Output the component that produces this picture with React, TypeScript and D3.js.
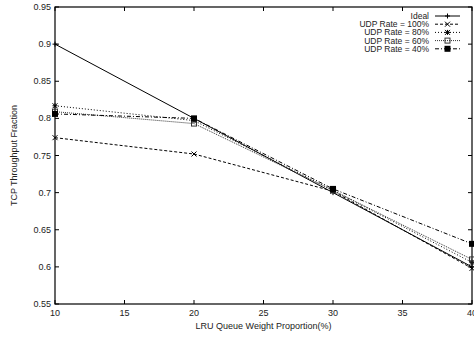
import { useEffect, useRef } from 'react';
import * as d3 from 'd3';

const xValues = [10, 20, 30, 40];
const seriesNames = ['Ideal', 'UDP Rate = 100%', 'UDP Rate = 80%', 'UDP Rate = 60%', 'UDP Rate = 40%'];
const ideal = [0.9, 0.8, 0.7, 0.6];
const udp100 = [0.774, 0.752, 0.702, 0.598];
const udp80 = [0.817, 0.797, 0.703, 0.606];
const udp60 = [0.809, 0.793, 0.703, 0.61];
const udp40 = [0.806, 0.8, 0.705, 0.631];
const xTicks = [10, 15, 20, 25, 30, 35, 40];
const yTicks = [0.55, 0.6, 0.65, 0.7, 0.75, 0.8, 0.85, 0.9, 0.95];

const styles = [
  { dash: null, marker: 'plus', color: '#000' },
  { dash: '3,2', marker: 'cross', color: '#000' },
  { dash: '1,2', marker: 'star', color: '#000' },
  { dash: '1,1', marker: 'box', color: '#333' },
  { dash: '4,2,1,2', marker: 'fbox', color: '#000' },
];

function drawMarker(g: any, type: string, x: number, y: number, color: string) {
  const s = 2.5;
  if (type === 'plus' || type === 'star') {
    g.append('line').attr('x1', x - s).attr('x2', x + s).attr('y1', y).attr('y2', y)
      .attr('stroke', color).attr('stroke-width', 1);
    g.append('line').attr('x1', x).attr('x2', x).attr('y1', y - s).attr('y2', y + s)
      .attr('stroke', color).attr('stroke-width', 1);
  }
  if (type === 'cross' || type === 'star') {
    g.append('line').attr('x1', x - s).attr('x2', x + s).attr('y1', y - s).attr('y2', y + s)
      .attr('stroke', color).attr('stroke-width', 1);
    g.append('line').attr('x1', x - s).attr('x2', x + s).attr('y1', y + s).attr('y2', y - s)
      .attr('stroke', color).attr('stroke-width', 1);
  }
  if (type === 'box') {
    g.append('rect').attr('x', x - 2.5).attr('y', y - 2.5).attr('width', 5).attr('height', 5)
      .attr('fill', 'none').attr('stroke', color).attr('stroke-width', 1);
  }
  if (type === 'fbox') {
    g.append('rect').attr('x', x - 3).attr('y', y - 3).attr('width', 6).attr('height', 6)
      .attr('fill', color);
  }
}

export default function App() {
  const svgRef = useRef<SVGSVGElement>(null);

  useEffect(() => {
    const W = 474;
    const H = 340;
    const left = 55, right = 472, top = 7, bottom = 304;

    const svg = d3.select(svgRef.current);
    svg.selectAll('*').remove();
    svg.attr('width', W).attr('height', H);

    const x = d3.scaleLinear().domain([10, 40]).range([left, right]);
    const y = d3.scaleLinear().domain([0.55, 0.95]).range([bottom, top]);

    const font = 'Liberation Sans, Arial, sans-serif';
    const g = svg.append('g');

    // frame
    g.append('rect')
      .attr('x', left).attr('y', top)
      .attr('width', right - left).attr('height', bottom - top)
      .attr('fill', 'none').attr('stroke', '#000').attr('stroke-width', 1.2);

    // ticks (mirrored, inward)
    const tl = 4;
    xTicks.forEach(t => {
      g.append('line').attr('x1', x(t)).attr('x2', x(t)).attr('y1', bottom).attr('y2', bottom - tl)
        .attr('stroke', '#000');
      g.append('line').attr('x1', x(t)).attr('x2', x(t)).attr('y1', top).attr('y2', top + tl)
        .attr('stroke', '#000');
      g.append('text').attr('x', x(t)).attr('y', bottom + 12)
        .attr('text-anchor', 'middle').attr('font-family', font).attr('font-size', 9)
        .attr('fill', '#222').text(String(t));
    });
    yTicks.forEach(t => {
      g.append('line').attr('x1', left).attr('x2', left + tl).attr('y1', y(t)).attr('y2', y(t))
        .attr('stroke', '#000');
      g.append('line').attr('x1', right).attr('x2', right - tl).attr('y1', y(t)).attr('y2', y(t))
        .attr('stroke', '#000');
      g.append('text').attr('x', left - 4).attr('y', y(t) + 3)
        .attr('text-anchor', 'end').attr('font-family', font).attr('font-size', 9)
        .attr('fill', '#222').text(String(t));
    });

    // axis labels
    g.append('text')
      .attr('x', (left + right) / 2).attr('y', 329)
      .attr('text-anchor', 'middle').attr('font-family', font).attr('font-size', 9)
      .attr('fill', '#222').text('LRU Queue Weight Proportion(%)');
    g.append('text')
      .attr('transform', `translate(17,${(top + bottom) / 2}) rotate(-90)`)
      .attr('text-anchor', 'middle').attr('font-family', font).attr('font-size', 9)
      .attr('fill', '#222').text('TCP Throughput Fraction');

    // series
    const all = [ideal, udp100, udp80, udp60, udp40];
    const line = d3.line<number>()
      .x((_, i) => x(xValues[i]))
      .y(d => y(d));

    all.forEach((vals, si) => {
      const st = styles[si];
      g.append('path')
        .datum(vals)
        .attr('fill', 'none')
        .attr('stroke', st.color)
        .attr('stroke-width', 1)
        .attr('stroke-dasharray', st.dash)
        .attr('d', line);
      vals.forEach((v, i) => drawMarker(g, st.marker, x(xValues[i]), y(v), st.color));
    });

    // legend
    seriesNames.forEach((name, i) => {
      const ly = 16 + i * 8.2;
      const st = styles[i];
      g.append('text').attr('x', 429).attr('y', ly + 3)
        .attr('text-anchor', 'end').attr('font-family', font).attr('font-size', 8.5)
        .attr('fill', '#222').text(name);
      g.append('line').attr('x1', 435).attr('x2', 460).attr('y1', ly).attr('y2', ly)
        .attr('stroke', st.color).attr('stroke-width', 1).attr('stroke-dasharray', st.dash);
      drawMarker(g, st.marker, 447.5, ly, st.color);
    });
  }, []);

  return (
    <div style={{ position: 'absolute', left: 0, top: 0, background: '#fff' }}>
      <svg ref={svgRef}></svg>
    </div>
  );
}
